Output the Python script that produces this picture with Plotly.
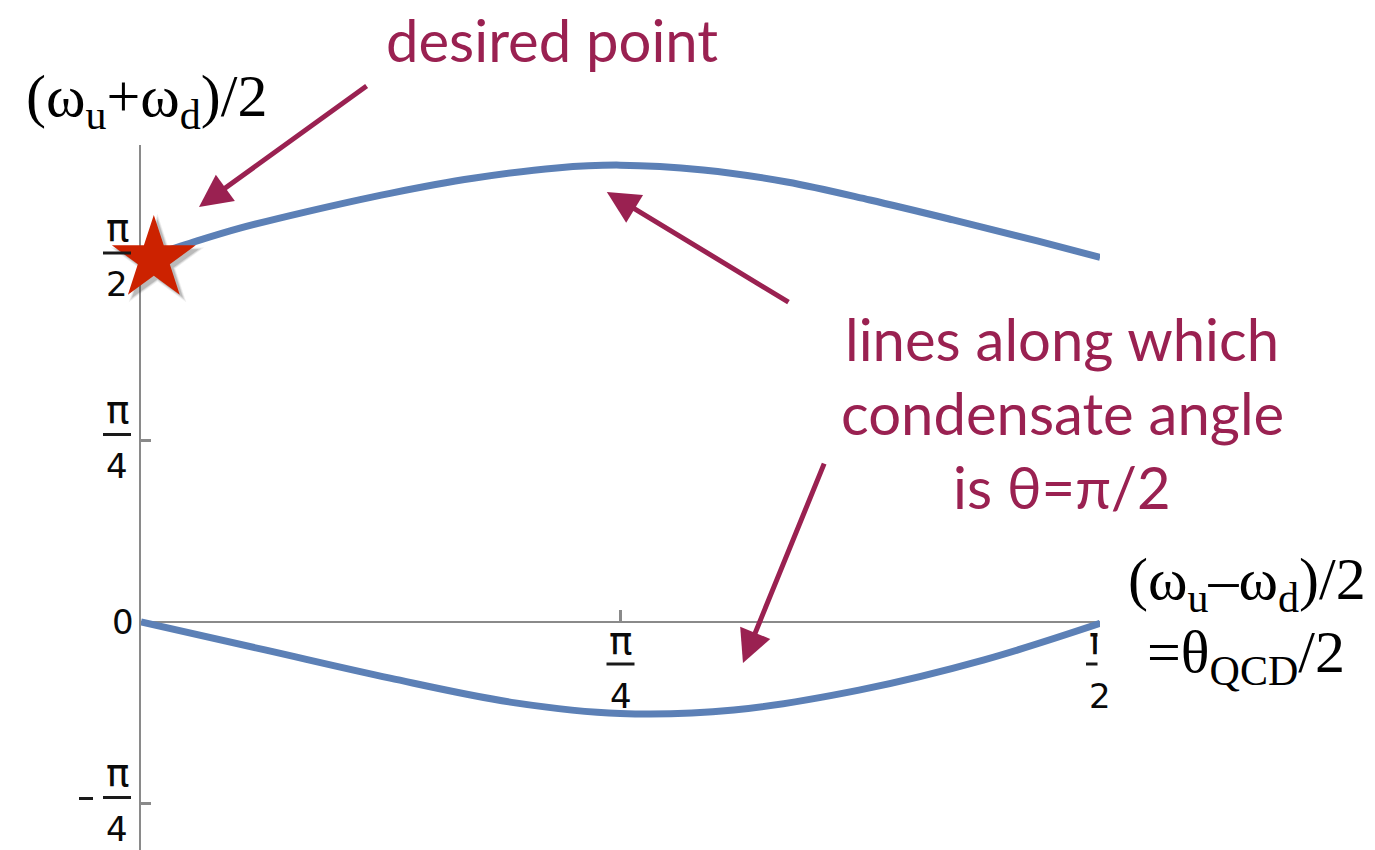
import math
import plotly.graph_objects as go

PI = math.pi

# Branches of the curve along which the condensate angle equals pi/2 (radians)
upper_x = [0.000, 0.080, 0.162, 0.272, 0.408, 0.544, 0.681, 0.785, 0.921, 1.058, 1.194, 1.330, 1.468, 1.571]
upper_y = [1.571, 1.639, 1.704, 1.776, 1.855, 1.920, 1.965, 1.977, 1.956, 1.904, 1.826, 1.740, 1.649, 1.578]

lower_x = [0.000, 0.203, 0.408, 0.613, 0.785, 0.971, 1.176, 1.381, 1.571]
lower_y = [0.000, -0.121, -0.243, -0.350, -0.396, -0.381, -0.295, -0.164, -0.006]

# Desired point
star_x = [0.021]
star_y = [PI / 2]

# Ticks and their fraction labels
x_ticks = [0, PI / 4, PI / 2]
x_frac_vals = [PI / 4, PI / 2]
x_frac_num = ["π", "π"]
x_frac_den = ["4", "2"]

y_ticks = [-PI / 4, 0, PI / 4, PI / 2]
y_frac_vals = [-PI / 4, PI / 4, PI / 2]
y_frac_sign = ["−", "", ""]
y_frac_num = ["π", "π", "π"]
y_frac_den = ["4", "4", "2"]
y_plain_vals = [0]
y_plain_text = ["0"]

# Figure geometry (pixels)
W, H = 1375, 850
L, R, T, B = 141, 1100, 145, 850
X_MIN, X_MAX = 0.0, PI / 2
Y_TOP, Y_BOT = 2.0641, -0.9866
PW, PH = R - L, B - T


def px(xp):
    return (xp - L) / PW


def py(yp):
    return (B - yp) / PH


def xfrac(v, dx=0):
    return (v - X_MIN) / (X_MAX - X_MIN) + dx / PW


def yfrac(v, dy=0):
    return (v - Y_BOT) / (Y_TOP - Y_BOT) + dy / PH


MAROON = "#9a2151"
BLUE = "#5c80b6"
AXIS = "#8a8a8a"
DIGIT_FONT = dict(family="DejaVu Sans", size=34, color="#0a0a0a")
PI_FONT = dict(family="DejaVu Sans", size=39, color="#0a0a0a")
SERIF = "Liberation Serif"
SANS = "Lato"

fig = go.Figure()

fig.add_trace(go.Scatter(x=upper_x, y=upper_y, mode="lines", line=dict(color=BLUE, width=7, shape="spline"),
                         hoverinfo="skip", cliponaxis=False))
fig.add_trace(go.Scatter(x=lower_x, y=lower_y, mode="lines", line=dict(color=BLUE, width=7, shape="spline"),
                         hoverinfo="skip", cliponaxis=False))

# soft drop shadow under the star
for s, op in [(70, 0.08), (66, 0.12), (62, 0.18)]:
    fig.add_trace(go.Scatter(x=[v + 0.006 for v in star_x], y=[v - 0.016 for v in star_y], mode="markers",
                             marker=dict(symbol="star", size=s, color="#333333", opacity=op, line=dict(width=0)),
                             hoverinfo="skip", cliponaxis=False))
fig.add_trace(go.Scatter(x=star_x, y=star_y, mode="markers",
                         marker=dict(symbol="star", size=63, color="#cc2200", line=dict(width=0)),
                         hoverinfo="skip", cliponaxis=False))

annotations = []
shapes = []
BAR = dict(color="#1a1a1a", width=3)

# x tick fraction labels
for v, n, d in zip(x_frac_vals, x_frac_num, x_frac_den):
    annotations.append(dict(x=xfrac(v), y=yfrac(0, -18), xref="paper", yref="paper", text=n, showarrow=False,
                            font=PI_FONT, xanchor="center", yanchor="middle"))
    annotations.append(dict(x=xfrac(v), y=yfrac(0, -74), xref="paper", yref="paper", text=d, showarrow=False,
                            font=DIGIT_FONT, xanchor="center", yanchor="middle"))
    shapes.append(dict(type="line", xref="paper", yref="paper",
                       x0=xfrac(v, -14), x1=xfrac(v, 14), y0=yfrac(0, -42), y1=yfrac(0, -42), line=BAR))

# y tick fraction labels
for v, sg, n, d in zip(y_frac_vals, y_frac_sign, y_frac_num, y_frac_den):
    annotations.append(dict(x=xfrac(0, -24), y=yfrac(v, 31), xref="paper", yref="paper", text=n,
                            showarrow=False, font=PI_FONT, xanchor="center", yanchor="middle"))
    annotations.append(dict(x=xfrac(0, -24), y=yfrac(v, -25), xref="paper", yref="paper", text=d,
                            showarrow=False, font=DIGIT_FONT, xanchor="center", yanchor="middle"))
    shapes.append(dict(type="line", xref="paper", yref="paper",
                       x0=xfrac(0, -38), x1=xfrac(0, -10), y0=yfrac(v, 6), y1=yfrac(v, 6), line=BAR))
    if sg:
        shapes.append(dict(type="line", xref="paper", yref="paper",
                           x0=xfrac(0, -62), x1=xfrac(0, -48), y0=yfrac(v, 5), y1=yfrac(v, 5), line=BAR))

for v, t in zip(y_plain_vals, y_plain_text):
    annotations.append(dict(x=xfrac(0, -18), y=yfrac(v), xref="paper", yref="paper", text=t,
                            showarrow=False, font=DIGIT_FONT, xanchor="center", yanchor="middle"))

# white panel behind the horizontal axis caption
annotations.append(dict(x=px(1097), y=py(628), xref="paper", yref="paper", text=" ", showarrow=False,
                        xanchor="left", yanchor="top", width=278, height=44, bgcolor="white", borderpad=0))

# axis captions
cap_font = dict(family=SERIF, size=60, color="#000000")
annotations.append(dict(x=px(146), y=py(100), xref="paper", yref="paper",
                        text="(ω<sub>u</sub>+ω<sub>d</sub>)/2", showarrow=False, font=cap_font,
                        xanchor="center", yanchor="middle"))
annotations.append(dict(x=px(1247), y=py(583), xref="paper", yref="paper",
                        text="(ω<sub>u</sub>–ω<sub>d</sub>)/2", showarrow=False, font=cap_font,
                        xanchor="center", yanchor="middle"))
annotations.append(dict(x=px(1246), y=py(656), xref="paper", yref="paper",
                        text="=θ<sub>QCD</sub>/2", showarrow=False, font=cap_font,
                        xanchor="center", yanchor="middle"))

# callouts
note_font = dict(family=SANS, size=58, color=MAROON)
annotations.append(dict(x=px(552), y=py(40), xref="paper", yref="paper", text="desired point",
                        showarrow=False, font=note_font, xanchor="center", yanchor="middle"))
for txt, yy in [("lines along which", 338), ("condensate angle", 412), ("is θ=π/2", 486)]:
    annotations.append(dict(x=px(1062), y=py(yy), xref="paper", yref="paper", text=txt,
                            showarrow=False, font=note_font, xanchor="center", yanchor="middle"))

# arrows (tip, tail) in data coordinates
arrows = [((0.095, 1.796), (0.372, 2.324)),
          ((0.763, 1.861), (1.063, 1.380)),
          ((0.986, -0.177), (1.120, 0.692))]
for (tx, ty), (ax_, ay_) in arrows:
    annotations.append(dict(x=tx, y=ty, xref="x", yref="y", ax=ax_, ay=ay_, axref="x", ayref="y",
                            text="", showarrow=True, arrowhead=2, arrowsize=1.3, arrowwidth=5,
                            arrowcolor=MAROON, standoff=0, startstandoff=0))

fig.update_layout(
    width=W, height=H,
    margin=dict(l=L, r=W - R, t=T, b=H - B, pad=0),
    paper_bgcolor="white", plot_bgcolor="white",
    showlegend=False,
    xaxis=dict(range=[X_MIN, X_MAX], anchor="free", position=(0 - Y_BOT) / (Y_TOP - Y_BOT),
               showline=True, linecolor=AXIS, linewidth=1.5, ticks="inside", ticklen=11, tickwidth=2.5,
               tickcolor=AXIS, tickvals=x_ticks, showticklabels=False, showgrid=False, zeroline=False,
               layer="below traces", fixedrange=True),
    yaxis=dict(range=[Y_BOT, Y_TOP], showline=True, linecolor=AXIS, linewidth=1.5, ticks="inside",
               ticklen=10, tickwidth=2.5, tickcolor=AXIS, tickvals=y_ticks, showticklabels=False,
               showgrid=False, zeroline=False, layer="below traces", fixedrange=True),
    annotations=annotations,
    shapes=shapes,
)

fig.write_html("out.html")
